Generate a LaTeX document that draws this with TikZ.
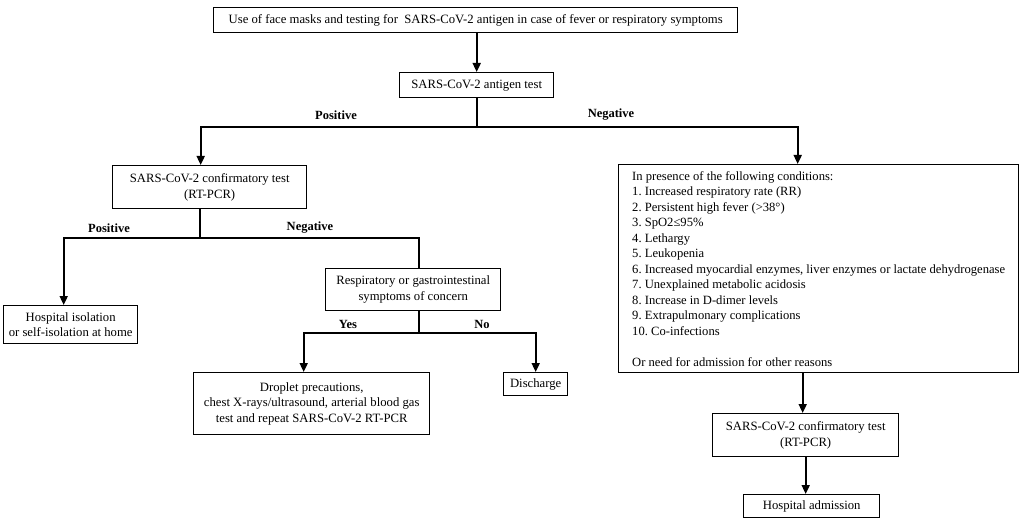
\documentclass[tikz,border=0pt]{standalone}
\usepackage{fontspec}
\setmainfont{Liberation Serif}
\usetikzlibrary{arrows.meta,calc}
\frenchspacing
\begin{document}
\begin{tikzpicture}[x=1pt,y=-1pt,
  box/.style={draw,line width=1.4pt,anchor=north west,inner sep=2pt,align=center,font=\fontsize{12.7}{15.5}\selectfont},
  conn/.style={line width=1.8pt},
  arr/.style={line width=1.8pt,-{Triangle[width=8pt,length=9pt]}},
  lbl/.style={font=\bfseries\fontsize{12.5}{14}\selectfont}]
\useasboundingbox (0,0) rectangle (1021,524);
\node[box,minimum width=524pt,minimum height=25pt] (top) at (213,7) {Use of face masks and testing for\ \ SARS-CoV-2 antigen in case of fever or respiratory symptoms};
\node[box,minimum width=154pt,minimum height=25pt] (ag) at (399,72) {SARS-CoV-2 antigen test};
\node[box,minimum width=194pt,minimum height=43pt] (c1) at (112,165) {SARS-CoV-2 confirmatory test\\(RT-PCR)};
\node[box,minimum width=134pt,minimum height=38pt] (iso) at (3,305) {Hospital isolation\\or self-isolation at home};
\node[box,minimum width=175pt,minimum height=42pt] (resp) at (325,268) {Respiratory or gastrointestinal\\symptoms of concern};
\node[box,minimum width=236pt,minimum height=62pt] (drop) at (193,372) {Droplet precautions,\\chest X-rays/ultrasound, arterial blood gas\\test and repeat SARS-CoV-2 RT-PCR};
\node[box,minimum width=400pt,minimum height=208pt,align=left,font=\fontsize{12.6}{15.5}\selectfont] (cond) at (618,164) {In presence of the following conditions:\\
1. Increased respiratory rate (RR)\\
2. Persistent high fever (>38°)\\
3. SpO2≤95\%\\
4. Lethargy\\
5. Leukopenia\\
6. Increased myocardial enzymes, liver enzymes or lactate dehydrogenase\\
7. Unexplained metabolic acidosis\\
8. Increase in D-dimer levels\\
9. Extrapulmonary complications\\
10. Co-infections\\[15.5pt]
Or need for admission for other reasons};
\node[box,minimum width=64pt,minimum height=23pt] (dis) at (503,372) {Discharge};
\node[box,minimum width=186pt,minimum height=43pt] (c2) at (712,413) {SARS-CoV-2 confirmatory test\\(RT-PCR)};
\node[box,minimum width=136pt,minimum height=23pt] (adm) at (743,494) {Hospital admission};
% connectors
\draw[arr] (top.south -| ag.north) -- (ag.north);
\coordinate (jA) at (ag.south |- 0,127);
\coordinate (c1in) at ([xshift=-9pt]c1.north);
\coordinate (condin) at ([xshift=-21pt]cond.north);
\draw[conn] (ag.south) -- (jA);
\draw[arr] (jA) -| (c1in);
\draw[arr] (jA) -| (condin);
\node[lbl] (lp1) at (336,115) {Positive};
\node[lbl] (ln1) at (611,115) {Negative};
\coordinate (c1out) at ([xshift=-10pt]c1.south);
\coordinate (jB) at (c1out |- 0,238);
\coordinate (isoin) at ([xshift=-7pt]iso.north);
\coordinate (respin) at ([xshift=5.5pt]resp.north);
\draw[conn] (c1out) -- (jB);
\draw[arr] (jB) -| (isoin);
\draw[conn] (jB) -| (respin);
\node[lbl] (lp2) at (109,228) {Positive};
\node[lbl] (ln2) at (310,228) {Negative};
\coordinate (respout) at ([xshift=5.5pt]resp.south);
\coordinate (jC) at (respout |- 0,333);
\coordinate (dropin) at ([xshift=-8pt]drop.north);
\draw[conn] (respout) -- (jC);
\draw[arr] (jC) -| (dropin);
\draw[arr] (jC) -| (dis.north);
\node[lbl] (ly) at (348,324) {Yes};
\node[lbl] (lno) at (482,324) {No};
\coordinate (condout) at ([xshift=-16pt]cond.south);
\draw[arr] (condout) -- (condout |- c2.north);
\draw[arr] (c2.south) -- (c2.south |- adm.north);
\end{tikzpicture}
\end{document}
